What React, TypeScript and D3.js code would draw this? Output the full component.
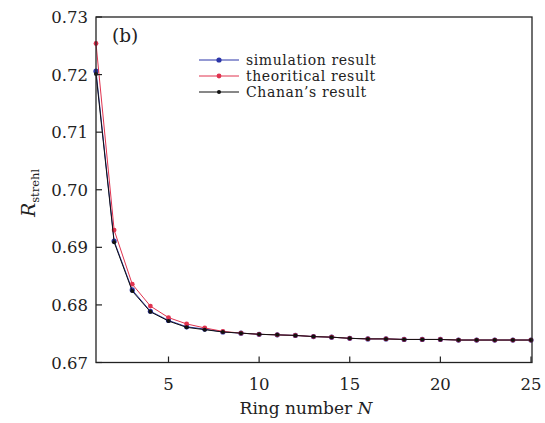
import React from "react";
import * as d3 from "d3";

const ringN = d3.range(1, 26);
const simulation = [0.7206, 0.6911, 0.6826, 0.6789, 0.6773, 0.6762, 0.6758, 0.6753, 0.6751, 0.6749, 0.6748, 0.6747, 0.6745, 0.6744, 0.6742, 0.6741, 0.6741, 0.6740, 0.6740, 0.6740, 0.6739, 0.6739, 0.6739, 0.6739, 0.6739];
const theoretical = [0.7254, 0.6930, 0.6836, 0.6798, 0.6778, 0.6767, 0.6760, 0.6754, 0.6751, 0.6749, 0.6748, 0.6747, 0.6745, 0.6744, 0.6742, 0.6741, 0.6741, 0.6740, 0.6740, 0.6740, 0.6739, 0.6739, 0.6739, 0.6739, 0.6739];
const chanan = [0.7201, 0.6909, 0.6824, 0.6788, 0.6772, 0.6761, 0.6757, 0.6753, 0.6751, 0.6749, 0.6748, 0.6747, 0.6745, 0.6744, 0.6742, 0.6741, 0.6741, 0.6740, 0.6740, 0.6740, 0.6739, 0.6739, 0.6739, 0.6739, 0.6739];
const xTicks = [5, 10, 15, 20, 25];
const yTicks = [0.67, 0.68, 0.69, 0.70, 0.71, 0.72, 0.73];
const seriesNames = ["simulation result", "theoritical result", "Chanan\u2019s result"];

const W = 545, H = 423;
const left = 96, right = 531, top = 17, bottom = 362.5;
const FONT = "'DejaVu Serif', 'Liberation Serif', serif";

export default function App() {
  const x = d3.scaleLinear().domain([1, 25]).range([left, right]);
  const y = d3.scaleLinear().domain([0.67, 0.73]).range([bottom, top]);
  const series = [
    { name: seriesNames[0], values: simulation, color: "#2b35a8", r: 2.6 },
    { name: seriesNames[1], values: theoretical, color: "#e0334f", r: 2.4 },
    { name: seriesNames[2], values: chanan, color: "#111111", r: 2.0 },
  ];
  const line = d3.line<number>().x((_, i) => x(ringN[i])).y((d) => y(d));
  return (
    <svg width={W} height={H} style={{ position: "absolute", left: 0, top: 0, background: "#fff" }}>
      <rect x={0} y={0} width={W} height={H} fill="#fff" />
      {series.map((s) => (
        <g key={s.name}>
          <path d={line(s.values) || ""} fill="none" stroke={s.color} strokeWidth={1} />
          {s.values.map((v, i) => (
            <circle key={i} cx={x(ringN[i])} cy={y(v)} r={s.r} fill={s.color} />
          ))}
        </g>
      ))}
      <rect x={left} y={top} width={right - left + 1} height={bottom - top} fill="none" stroke="#222" strokeWidth={1.3} />
      {yTicks.map((t) => (
        <g key={t}>
          <line x1={left} x2={left + 6} y1={y(t)} y2={y(t)} stroke="#222" strokeWidth={1.2} />
          <text x={88} y={y(t) + 6} textAnchor="end" fontFamily={FONT} fontSize={16.5} fill="#222">
            {t.toFixed(2)}
          </text>
        </g>
      ))}
      {xTicks.map((t) => (
        <g key={t}>
          <line x1={x(t)} x2={x(t)} y1={bottom} y2={bottom - 6} stroke="#222" strokeWidth={1.2} />
          <text x={x(t)} y={390} textAnchor="middle" fontFamily={FONT} fontSize={16.5} fill="#222">
            {t}
          </text>
        </g>
      ))}
      <text x={306} y={414} textAnchor="middle" fontFamily={FONT} fontSize={17} fill="#222">
        Ring number <tspan fontStyle="italic">N</tspan>
      </text>
      <text transform="translate(35,193) rotate(-90)" textAnchor="middle" fontFamily={FONT} fill="#222">
        <tspan fontStyle="italic" fontSize={19}>R</tspan>
        <tspan fontSize={11.5} dy={4}>strehl</tspan>
      </text>
      <text x={112} y={42} fontFamily={FONT} fontSize={18.5} fill="#222">(b)</text>
      {series.map((s, i) => {
        const ly = 60 + i * 16;
        return (
          <g key={s.name}>
            <line x1={199} x2={239} y1={ly} y2={ly} stroke={s.color} strokeWidth={1} />
            <circle cx={219} cy={ly} r={s.r} fill={s.color} />
            <text x={246} y={ly + 5} fontFamily={FONT} fontSize={14} letterSpacing={0.6} fill="#222">{s.name}</text>
          </g>
        );
      })}
    </svg>
  );
}
